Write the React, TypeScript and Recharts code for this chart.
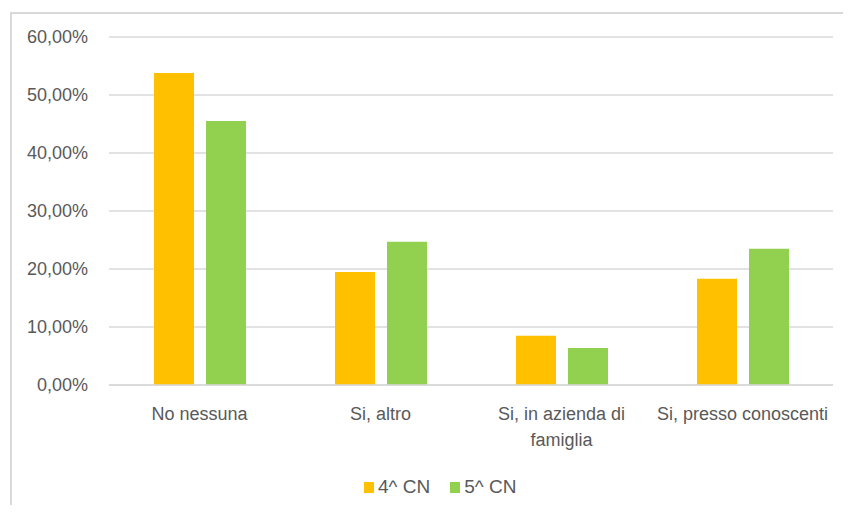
import { Bar, BarChart, CartesianGrid, XAxis, YAxis } from 'recharts';

const categories = [
  'No nessuna',
  'Si, altro',
  'Si, in azienda di famiglia',
  'Si, presso conoscenti',
];
const quarta = [0.538, 0.195, 0.085, 0.183];
const quinta = [0.455, 0.247, 0.064, 0.235];
const yTicks = [0, 0.1, 0.2, 0.3, 0.4, 0.5, 0.6];

const series = [
  { key: 'quarta', label: '4^ CN', color: '#FFC000' },
  { key: 'quinta', label: '5^ CN', color: '#92D050' },
];

const data = categories.map((name, i) => ({
  name,
  quarta: quarta[i],
  quinta: quinta[i],
}));

const FONT = '"Liberation Sans", Arial, sans-serif';
const GRAY = '#595959';
const LINE = '#d9d9d9';

const pct = (v: number) => `${(v * 100).toFixed(2).replace('.', ',')}%`;

function wrap(label: string, max = 21) {
  const lines: string[] = [];
  let cur = '';
  for (const w of label.split(' ')) {
    const next = cur ? `${cur} ${w}` : w;
    if (next.length > max && cur) {
      lines.push(cur);
      cur = w;
    } else cur = next;
  }
  if (cur) lines.push(cur);
  return lines;
}

function CategoryTick({ x, y, payload }: any) {
  return (
    <text x={x} y={y} textAnchor="middle" fill={GRAY} fontSize={18} fontFamily={FONT}>
      {wrap(payload.value).map((line, i) => (
        <tspan key={i} x={x} dy={i === 0 ? 27 : 26}>
          {line}
        </tspan>
      ))}
    </text>
  );
}

function LegendBox() {
  return (
    <div
      style={{
        position: 'absolute',
        left: 364,
        top: 476,
        display: 'flex',
        gap: 20,
        fontFamily: FONT,
        fontSize: 19,
        lineHeight: '22px',
        color: GRAY,
      }}
    >
      {series.map((s) => (
        <span key={s.key} style={{ display: 'flex', alignItems: 'center', gap: 4 }}>
          <span style={{ width: 10, height: 11, background: s.color, display: 'inline-block' }} />
          {s.label}
        </span>
      ))}
    </div>
  );
}

export default function App() {
  return (
    <div style={{ position: 'relative', width: 851, height: 513, margin: -8, background: '#fff', overflow: 'hidden' }}>
      <div
        style={{
          position: 'absolute',
          left: 10,
          top: 12,
          right: 0,
          bottom: 0,
          borderTop: `2px solid ${LINE}`,
          borderLeft: `2px solid ${LINE}`,
        }}
      />
      <div style={{ position: 'absolute', left: 0, top: 0 }}>
        <BarChart
          width={851}
          height={513}
          data={data}
          margin={{ top: 37, right: 18, left: 0, bottom: 0 }}
          barSize={40}
          barGap={12}
        >
          <CartesianGrid vertical={false} stroke={LINE} strokeWidth={1.5} />
          <XAxis
            dataKey="name"
            tick={<CategoryTick />}
            tickLine={false}
            axisLine={{ stroke: LINE, strokeWidth: 1.5 }}
            height={128}
            interval={0}
          />
          <YAxis
            domain={[0, 0.6]}
            ticks={yTicks}
            tickFormatter={pct}
            tick={{ fontSize: 18, fill: GRAY, fontFamily: FONT }}
            tickLine={false}
            tickSize={0}
            tickMargin={21}
            axisLine={false}
            width={109}
          />
          {series.map((s) => (
            <Bar key={s.key} dataKey={s.key} name={s.label} fill={s.color} isAnimationActive={false} />
          ))}
        </BarChart>
      </div>
      <LegendBox />
    </div>
  );
}
